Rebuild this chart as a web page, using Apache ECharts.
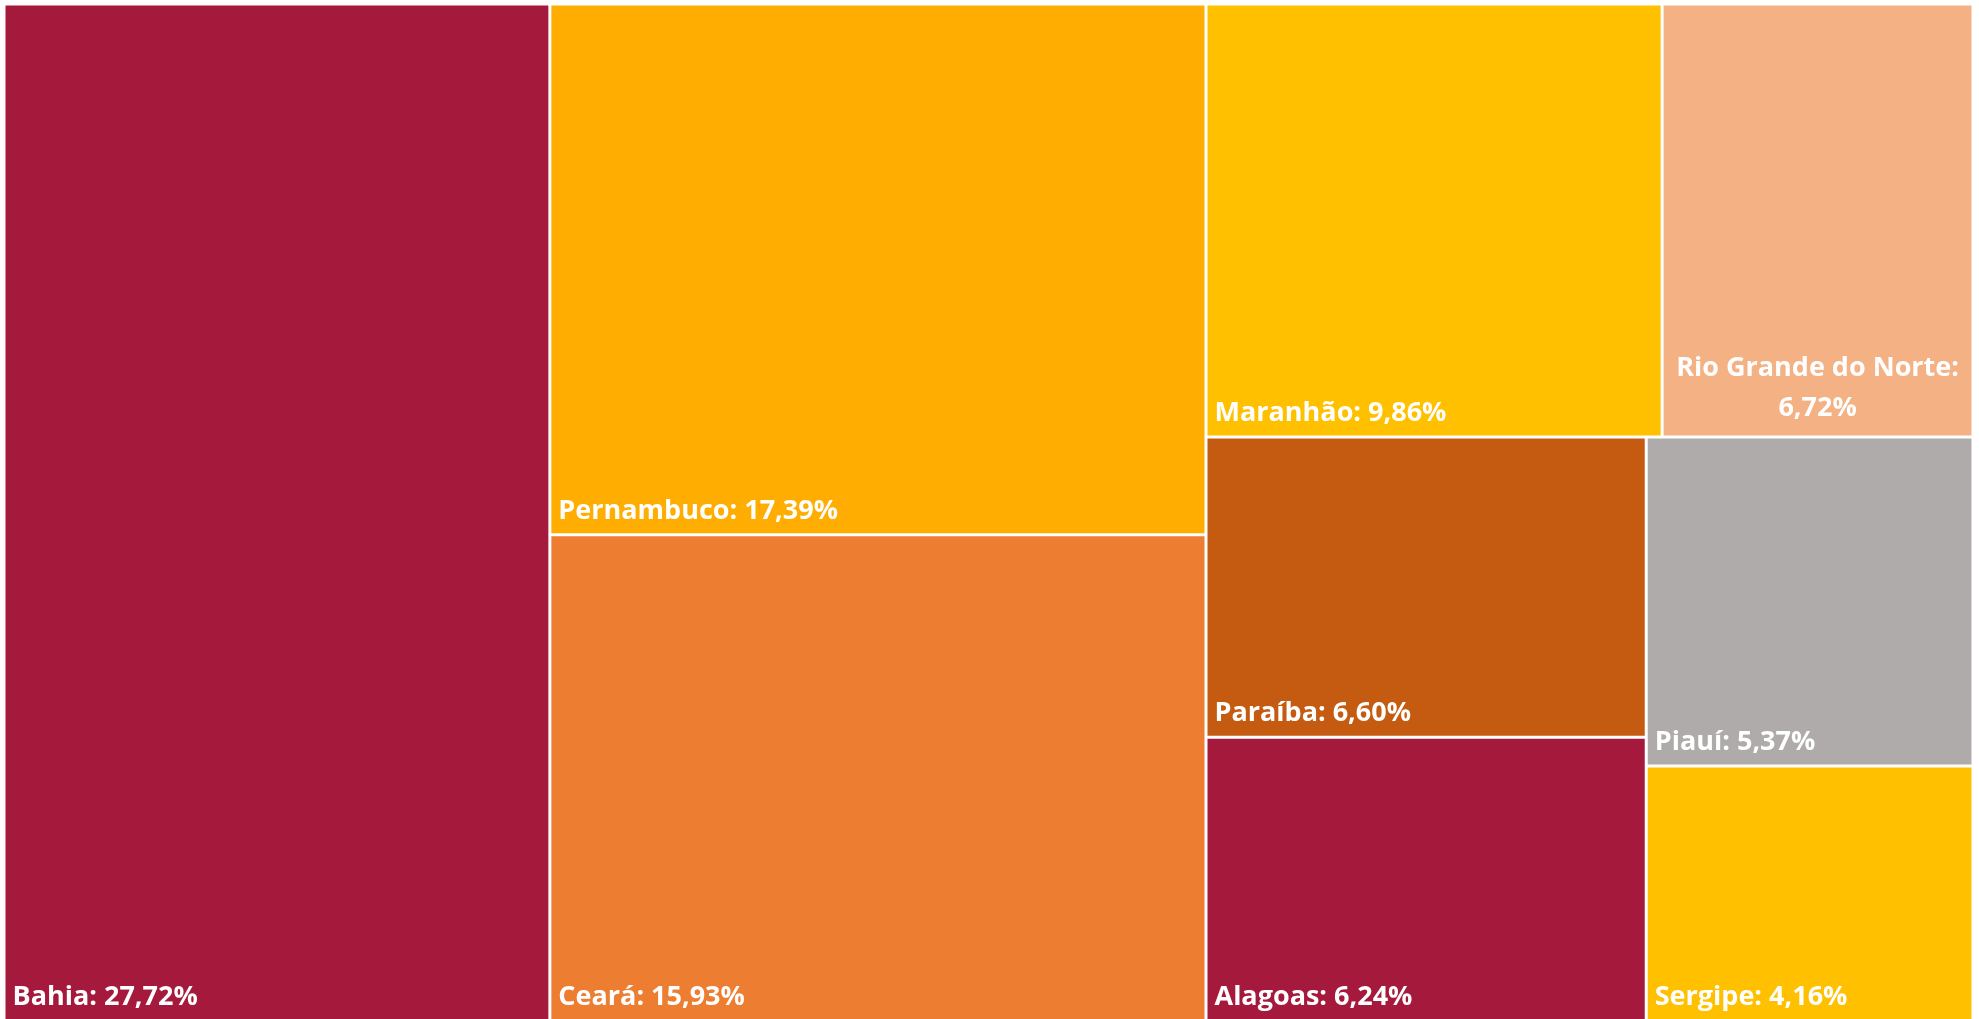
<!DOCTYPE html>
<html>
<head>
<meta charset="utf-8">
<script src="https://cdn.jsdelivr.net/npm/echarts@6/dist/echarts.min.js"></script>
<style>
  html, body { margin: 0; padding: 0; background: #fff; }
  #chart { width: 1979px; height: 1019px; }
</style>
</head>
<body>
<div id="chart"></div>
<script>
// Participação por estado (%)
const states = ['Bahia', 'Pernambuco', 'Ceará', 'Maranhão', 'Rio Grande do Norte', 'Paraíba', 'Alagoas', 'Piauí', 'Sergipe'];
const shares = [27.72, 17.39, 15.93, 9.86, 6.72, 6.60, 6.24, 5.37, 4.16];
const colors = ['#A5193D', '#FFAD00', '#ED7D31', '#FFC000', '#F4B183', '#C55A11', '#A5193D', '#AFABAB', '#FFC000'];

const fmt = v => v.toFixed(2).replace('.', ',');

const data = states.map((name, i) => {
  const item = {
    name: name,
    value: shares[i],
    itemStyle: { color: colors[i] }
  };
  // long name wraps in two centered lines, as in the original
  if (name.length > 15) {
    item.label = {
      position: 'insideBottom',
      align: 'center',
      lineHeight: 40,
      formatter: p => p.name + ':\n' + fmt(p.value) + '%'
    };
  }
  return item;
});

const chart = echarts.init(document.getElementById('chart'));
chart.setOption({
  animation: false,
  series: [{
    type: 'treemap',
    left: 4,
    top: 4,
    right: 6,
    bottom: -2,
    squareRatio: 1,
    roam: false,
    nodeClick: false,
    breadcrumb: { show: false },
    levels: [{
      itemStyle: { borderWidth: 0, gapWidth: 0 }
    }],
    itemStyle: {
      borderColor: '#fff',
      borderWidth: 1.5,
      gapWidth: 0
    },
    label: {
      show: true,
      position: 'insideBottomLeft',
      distance: 2,
      color: '#fff',
      fontFamily: 'Open Sans',
      fontWeight: 'bold',
      fontSize: 27,
      lineHeight: 30,
      formatter: p => p.name + ': ' + fmt(p.value) + '%'
    },
    data: data
  }]
});
</script>
</body>
</html>
